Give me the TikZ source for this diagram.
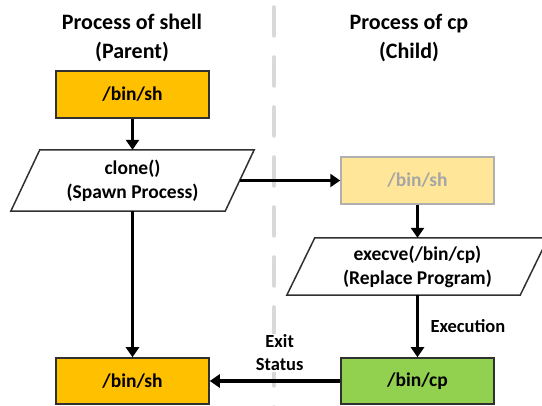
\documentclass[tikz,border=0pt]{standalone}
\usepackage{fontspec}
\setmainfont{Carlito}
\usetikzlibrary{arrows.meta,calc}
\definecolor{shorange}{HTML}{FFC000}
\definecolor{shfaded}{HTML}{FFE699}
\definecolor{cpgreen}{HTML}{92D050}
\definecolor{edgecol}{HTML}{303030}
\definecolor{sepgray}{HTML}{D9D9D9}
\definecolor{fadetext}{HTML}{A6A6A6}
\definecolor{fadeedge}{HTML}{B0B0B0}
\begin{document}
\begin{tikzpicture}[x=1pt,y=-1pt,
  proc/.style={draw=edgecol,line width=1.5pt,minimum width=153pt,minimum height=47pt,inner sep=0pt,font=\fontsize{19.5}{23}\selectfont\bfseries},
  ttl/.style={align=center,font=\fontsize{22}{29}\selectfont\bfseries},
  io/.style={inner sep=0pt,align=center,font=\fontsize{19.5}{24}\selectfont\bfseries},
  iobox/.style={draw=edgecol,line width=1.5pt},
  flow/.style={line width=3.5pt,-{Triangle[length=10pt,width=13pt]}},
  lbl/.style={font=\fontsize{18.5}{23}\selectfont\bfseries,align=center}]
\useasboundingbox (0,0) rectangle (542,406);
\coordinate (septop) at (274,7);
\coordinate (sepbot) at (274,410);
\draw[sepgray,line width=3.5pt,line cap=round,dash pattern=on 29pt off 21pt] (septop) -- (sepbot);

\node[ttl] (tl) at (132,38) {Process of shell\\(Parent)};
\node[ttl] (tr) at (409,38) {Process of cp\\(Child)};

\node[proc,fill=shorange] (sh1) at (132.5,94.5) {/bin/sh};
\node[io,minimum width=243pt,minimum height=61pt] (clone) at (132.5,180.5) {clone()\\(Spawn Process)};
\draw[iobox] ($(clone.north west)+(29,0)$) -- (clone.north east) -- ($(clone.south east)+(-29,0)$) -- (clone.south west) -- cycle;

\node[proc,fill=shfaded,draw=fadeedge,text=fadetext] (sh2) at (417.5,180.5) {/bin/sh};
\node[io,minimum width=261pt,minimum height=57pt] (exec) at (417.5,266.5) {execve(/bin/cp)\\(Replace Program)};
\draw[iobox] ($(exec.north west)+(28,0)$) -- (exec.north east) -- ($(exec.south east)+(-28,0)$) -- (exec.south west) -- cycle;

\node[proc,fill=shorange,minimum height=46pt] (sh3) at (132.5,381) {/bin/sh};
\node[proc,fill=cpgreen,minimum height=46pt] (cp) at (417.5,381) {/bin/cp};

\draw[flow] (sh1) -- (clone);
\draw[flow] ([xshift=-14pt]clone.east) -- (sh2.west);
\draw[flow] (clone) -- (sh3);
\draw[flow] (sh2) -- (exec);
\draw[flow] (exec) -- node[lbl,anchor=west,xshift=8pt] {Execution} (cp);
\draw[flow] (cp) -- node[lbl,fill=white,inner sep=1pt,pos=0.464,yshift=28pt] {Exit\\Status} (sh3);
\end{tikzpicture}
\end{document}
